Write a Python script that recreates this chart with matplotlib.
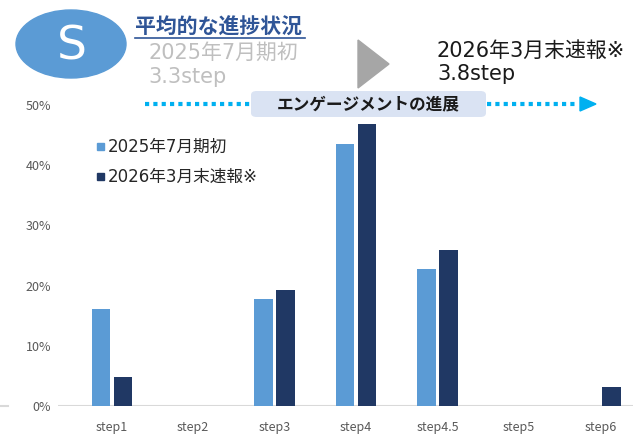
import numpy as np
import matplotlib.pyplot as plt
from matplotlib.patches import Ellipse, Polygon, FancyBboxPatch
from matplotlib.lines import Line2D

plt.rcParams['font.family'] = ['Noto Sans CJK JP', 'DejaVu Sans']
LATIN_FIRST = ['DejaVu Sans', 'Noto Sans CJK JP']

categories = ['step1', 'step2', 'step3', 'step4', 'step4.5', 'step5', 'step6']
share_2025 = [16.1, 0, 17.8, 43.6, 22.7, 0, 0]
share_2026 = [4.8, 0, 19.3, 46.8, 25.9, 0, 3.2]
label_2025 = '2025年7月期初'
label_2026 = '2026年3月末速報※'
avg_2025 = '3.3step'
avg_2026 = '3.8step'

W, H = 633, 436
fig = plt.figure(figsize=(W / 100, H / 100), dpi=100)


def px(x, y):
    # pixel position (from top-left) -> figure fraction
    return x / W, 1 - y / H


# bar chart area
ax = fig.add_axes([58 / W, 30 / H, 1 - 58 / W, 301 / H])
x = np.arange(len(categories))
bw = 0.225
ax.bar(x - 0.135, share_2025, bw, color='#5b9bd5', label=label_2025)
ax.bar(x + 0.135, share_2026, bw, color='#203864', label=label_2026)
ax.set_xlim(-0.66, 6.4)
ax.set_ylim(0, 50)
ax.set_xticks(x)
ax.set_xticklabels(categories)
ax.set_yticks(range(0, 51, 10))
ax.set_yticklabels([f'{v}%' for v in range(0, 51, 10)])
ax.tick_params(length=0, colors='#595959', labelsize=9)
ax.tick_params(axis='x', pad=11)
ax.tick_params(axis='y', pad=5)
for s in ax.spines.values():
    s.set_visible(False)
ax.axhline(0, color='#d9d9d9', lw=1.5, zorder=0)
fig.add_artist(Line2D([0, 8 / W], [1 - 406 / H] * 2, color='#d9d9d9', lw=1.5))

# legend
for i, (lab, col) in enumerate([(label_2025, '#5b9bd5'), (label_2026, '#203864')]):
    y = 147 + 30 * i
    fig.patches.append(Polygon([px(97, y - 4), px(104, y - 4), px(104, y + 3), px(97, y + 3)],
                               closed=True, color=col, transform=fig.transFigure))
    fig.text(*px(108, y), lab, fontsize=12, color='#262626', va='center', ha='left',
             family=LATIN_FIRST)

# header: "S" badge
fig.patches.append(Ellipse(px(71, 44), 110 / W, 68 / H, color='#5b9bd5', transform=fig.transFigure))
fig.text(*px(72, 47), 'S', fontsize=34, color='white', ha='center', va='center', family='DejaVu Sans')

fig.text(*px(135, 27), '平均的な進捗状況', fontsize=15, color='#2f5597',
         fontweight='bold', ha='left', va='center')
fig.add_artist(Line2D([135 / W, 305 / W], [1 - 38 / H] * 2, color='#2f5597', lw=1.2))
fig.text(*px(148, 53), label_2025, fontsize=15, color='#bfbfbf', ha='left', va='center',
         family=LATIN_FIRST)
fig.text(*px(148, 77), avg_2025, fontsize=15, color='#bfbfbf', ha='left', va='center',
         family=LATIN_FIRST)

fig.patches.append(Polygon([px(358, 40), px(358, 88), px(389, 64)], closed=True,
                           color='#a6a6a6', transform=fig.transFigure))

fig.text(*px(437, 51), label_2026, fontsize=15, color='#1a1a1a', ha='left', va='center',
         family=LATIN_FIRST)
fig.text(*px(437, 74), avg_2026, fontsize=15, color='#1a1a1a', ha='left', va='center',
         family=LATIN_FIRST)

# engagement progress arrow
for x0, x1 in [(145, 250), (487, 578)]:
    fig.add_artist(Line2D([x0 / W, x1 / W], [1 - 104 / H] * 2, color='#00b0f0', lw=3,
                          dashes=(1, 1), dash_capstyle='butt'))
fig.patches.append(Polygon([px(580, 97), px(580, 111), px(596, 104)], closed=True,
                           color='#00b0f0', transform=fig.transFigure))
fig.patches.append(FancyBboxPatch(px(251, 117), 235 / W, 26 / H,
                                  boxstyle='round,pad=0,rounding_size=0.009',
                                  fc='#dae3f3', ec='none', transform=fig.transFigure))
fig.text(*px(368, 104), 'エンゲージメントの進展', fontsize=12, fontweight='bold',
         color='#1a1a1a', ha='center', va='center')

fig.savefig('out.png', dpi=100)
